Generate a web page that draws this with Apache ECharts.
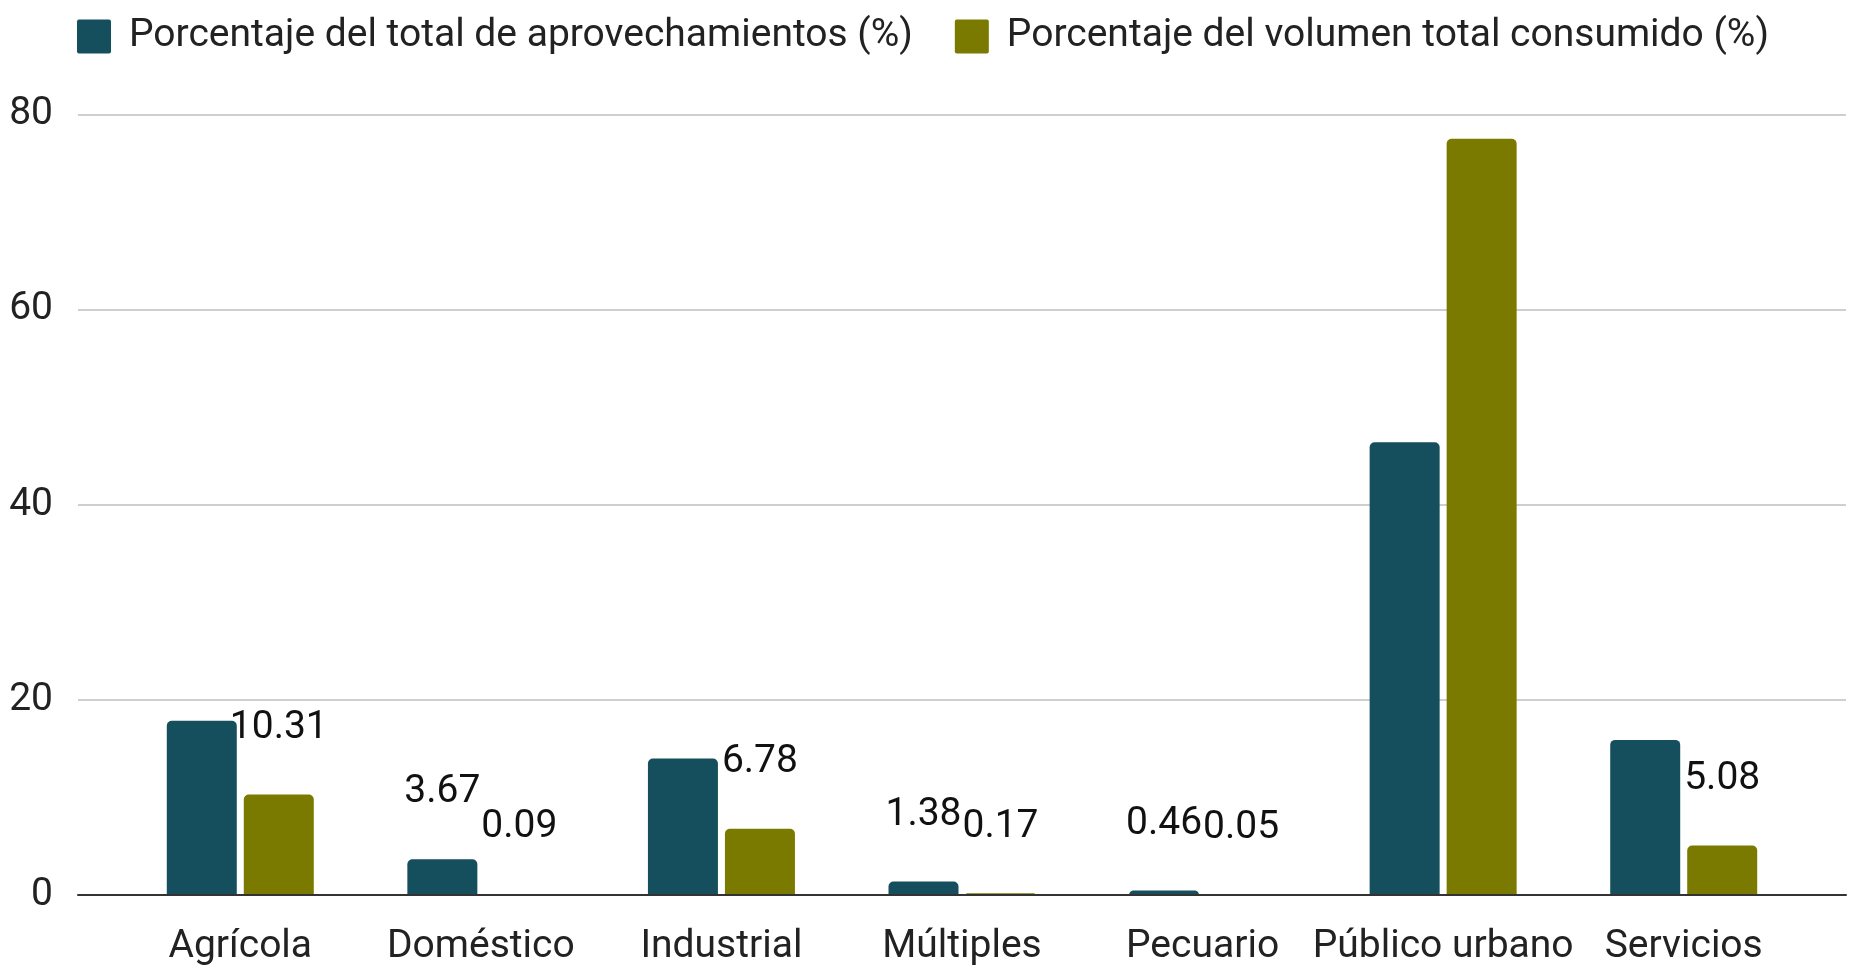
<!DOCTYPE html>
<html>
<head>
<meta charset="utf-8">
<script src="https://cdn.jsdelivr.net/npm/echarts@6/dist/echarts.min.js"></script>
<style>
  html, body { margin: 0; padding: 0; background: #fff; }
  #chart { width: 1856px; height: 969px; }
</style>
</head>
<body>
<div id="chart"></div>
<script>
  // datos
  var categorias = ['Agrícola', 'Doméstico', 'Industrial', 'Múltiples', 'Pecuario', 'Público urbano', 'Servicios'];
  var aprovechamientos = [17.85, 3.67, 14.0, 1.38, 0.46, 46.4, 15.9];
  var volumen = [10.31, 0.09, 6.78, 0.17, 0.05, 77.52, 5.08];
  var ticksY = [0, 20, 40, 60, 80];

  var colores = ['#154F5D', '#7A7A00'];
  var fuente = 'Roboto';

  var chart = echarts.init(document.getElementById('chart'));

  function etiqueta(limite) {
    return {
      show: true,
      position: 'top',
      distance: 47,
      fontFamily: fuente,
      fontSize: 39,
      color: '#111',
      formatter: function (p) {
        return p.value < limite ? p.value.toFixed(2) : '';
      }
    };
  }

  chart.setOption({
    animation: false,
    color: colores,
    textStyle: { fontFamily: fuente },
    legend: {
      left: 72,
      top: 12,
      itemWidth: 34,
      itemHeight: 34,
      itemGap: 42,
      icon: 'path://M2,0 H32 Q34,0 34,2 V32 Q34,34 32,34 H2 Q0,34 0,32 V2 Q0,0 2,0 Z',
      textStyle: { fontFamily: fuente, fontSize: 39, color: '#222', padding: [0, 0, 0, 13] },
      data: ['Porcentaje del total de aprovechamientos (%)', 'Porcentaje del volumen total consumido (%)']
    },
    grid: [
      { left: 78, right: 10, top: 114.5, bottom: 74 },
      { left: 120, right: 52, top: 114.5, bottom: 74 }
    ],
    xAxis: [
      {
        gridIndex: 0,
        type: 'category',
        data: [''],
        axisTick: { show: false },
        axisLabel: { show: false },
        axisLine: { lineStyle: { color: '#333', width: 2 } },
        z: 5
      },
      {
        gridIndex: 1,
        type: 'category',
        data: categorias,
        axisTick: { show: false },
        axisLine: { show: false },
        axisLabel: { interval: 0, fontFamily: fuente, fontSize: 39, color: '#222', margin: 33 }
      }
    ],
    yAxis: [
      {
        gridIndex: 0,
        type: 'value',
        min: ticksY[0],
        max: ticksY[ticksY.length - 1],
        interval: 20,
        axisLine: { show: false },
        axisTick: { show: false },
        axisLabel: { fontFamily: fuente, fontSize: 39, color: '#222', margin: 25 },
        splitLine: { lineStyle: { color: '#cfcfcf', width: 2 } }
      },
      {
        gridIndex: 1,
        type: 'value',
        min: ticksY[0],
        max: ticksY[ticksY.length - 1],
        interval: 20,
        show: false,
        splitLine: { show: false }
      }
    ],
    series: [
      {
        name: 'Porcentaje del total de aprovechamientos (%)',
        type: 'bar',
        xAxisIndex: 1,
        yAxisIndex: 1,
        barWidth: 70,
        barGap: '10%',
        itemStyle: { borderRadius: [5, 5, 0, 0] },
        label: etiqueta(5),
        data: aprovechamientos
      },
      {
        name: 'Porcentaje del volumen total consumido (%)',
        type: 'bar',
        xAxisIndex: 1,
        yAxisIndex: 1,
        barWidth: 70,
        barGap: '10%',
        itemStyle: { borderRadius: [5, 5, 0, 0] },
        label: etiqueta(50),
        data: volumen
      }
    ]
  });
</script>
</body>
</html>
